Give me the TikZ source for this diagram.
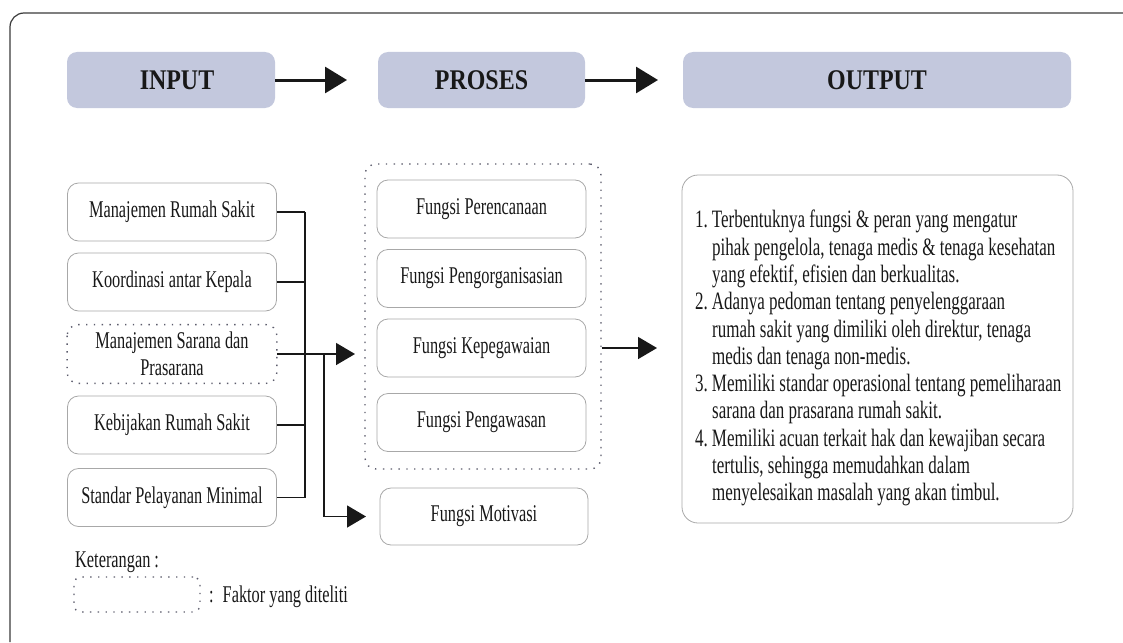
\documentclass[tikz,border=0pt]{standalone}
\usepackage{fontspec}
\setmainfont{Liberation Serif}[FakeStretch=0.68]
\newfontfamily\hdrfont{Liberation Serif}[FakeStretch=0.84]
\usetikzlibrary{arrows.meta}

\definecolor{hdr}{HTML}{C3C8DD}
\definecolor{edge}{HTML}{A8A8A8}
\definecolor{ink}{HTML}{181818}
\definecolor{dots}{HTML}{5C5C6C}
\definecolor{frame}{HTML}{3A3A3A}

\tikzset{
  hdrbox/.style={fill=hdr, rounded corners=10pt, minimum height=56pt, inner sep=0pt,
    font=\hdrfont\fontsize{28.5}{30}\selectfont\bfseries, text=ink},
  item/.style={draw=edge, line width=0.8pt, rounded corners=11pt, minimum width=209pt,
    minimum height=58pt, inner sep=0pt, font=\fontsize{24}{26.5}\selectfont,
    text=ink, align=center},
  dotbox/.style={draw=dots, line width=1.4pt, dash pattern=on 1.4pt off 6.4pt,
    rounded corners=11pt},
  bigarrow/.style={line width=3pt, ink, -{Triangle[length=22pt,width=26pt]}},
  link/.style={line width=1.5pt, ink},
  linkarrow/.style={link, -{Triangle[length=19pt,width=22pt]}},
  txt/.style={font=\fontsize{24}{26.5}\selectfont, text=ink, inner sep=0pt},
}

\begin{document}
\begin{tikzpicture}[x=1pt,y=-1pt]
\useasboundingbox (0,0) rectangle (1123,642);

% outer frame, open towards the right and the bottom
\draw[frame, line width=1.2pt, rounded corners=14pt] (10,642) -- (10,13) -- (1123,13);

% column headers
\node[hdrbox, minimum width=208pt] (hIn)  at (171,80)   {\hspace{12pt}INPUT};
\node[hdrbox, minimum width=207pt] (hPr)  at (481.5,80) {PROSES};
\node[hdrbox, minimum width=388pt] (hOut) at (877,80)   {OUTPUT};

\coordinate (tip1) at (347,0);
\coordinate (tip2) at (658,0);
\draw[bigarrow] (hIn.east) -- (hIn.east -| tip1);
\draw[bigarrow] (hPr.east) -- (hPr.east -| tip2);

% input factors
\node[item] (in1) at (172,212)   {Manajemen Rumah Sakit};
\node[item] (in2) at (172,282)   {Koordinasi antar Kepala};
\node[item, draw=none] (in3) at (172,354) {Manajemen Sarana dan\\Prasarana};
\draw[dotbox] (in3.north west) rectangle (in3.south east);
\node[item] (in4) at (172,425)   {Kebijakan Rumah Sakit};
\node[item] (in5) at (172,497.5) {Standar Pelayanan Minimal};

% process functions
\node[dotbox, minimum width=236pt, minimum height=305pt] (grp) at (483,316.5) {};
\node[item] (p1) at (481.5,209)   {Fungsi Perencanaan};
\node[item] (p2) at (481.5,278.5) {Fungsi Pengorganisasian};
\node[item] (p3) at (481.5,348)   {Fungsi Kepegawaian};
\node[item] (p4) at (481.5,422.5) {Fungsi Pengawasan};
\node[item, minimum width=208pt, minimum height=57pt] (p5) at (484,516.5) {Fungsi Motivasi};

% output box
\node[draw=edge, line width=0.8pt, rounded corners=16pt, minimum width=391pt,
      minimum height=348pt] (out) at (877.5,349) {};
\node[txt, anchor=north west, align=left, font=\fontsize{25}{27.3}\selectfont]
  (outtxt) at (695,210) {%
  1.\hspace{4pt}Terbentuknya fungsi \& peran yang mengatur\\
  \hspace*{17pt}pihak pengelola, tenaga medis \& tenaga kesehatan\\
  \hspace*{17pt}yang efektif, efisien dan berkualitas.\\
  2.\hspace{4pt}Adanya pedoman tentang penyelenggaraan\\
  \hspace*{17pt}rumah sakit yang dimiliki oleh direktur, tenaga\\
  \hspace*{17pt}medis dan tenaga non-medis.\\
  3.\hspace{4pt}Memiliki standar operasional tentang pemeliharaan\\
  \hspace*{17pt}sarana dan prasarana rumah sakit.\\
  4.\hspace{4pt}Memiliki acuan terkait hak dan kewajiban secara\\
  \hspace*{17pt}tertulis, sehingga memudahkan dalam\\
  \hspace*{17pt}menyelesaikan masalah yang akan timbul.};

% connectors from the inputs
\coordinate (bus)  at (305,0);
\coordinate (bus2) at (324,0);
\coordinate (tipA) at (355,0);
\coordinate (tipB) at (366,0);
\coordinate (tipC) at (657,0);
\foreach \n in {in1,in2,in4,in5}
  \draw[link] (\n.east) -- (\n.east -| bus);
\draw[link] (in1.east -| bus) -- (in5.east -| bus);
\draw[linkarrow] (in3.east) -- (in3.east -| tipA);
\draw[linkarrow] (in3.east -| bus2) -- (p5.west -| bus2) -- (p5.west -| tipB);
\draw[linkarrow] (grp.east |- p3.east) -- (p3.east -| tipC);

% legend
\node[txt, anchor=west] (ket) at (75,562) {Keterangan :};
\node[dotbox, minimum width=126pt, minimum height=35pt, rounded corners=7pt] (leg) at (137,594.5) {};
\node[txt, anchor=west] (legtxt) at (209,597) {:\hspace{9pt}Faktor yang diteliti};
\end{tikzpicture}
\end{document}
